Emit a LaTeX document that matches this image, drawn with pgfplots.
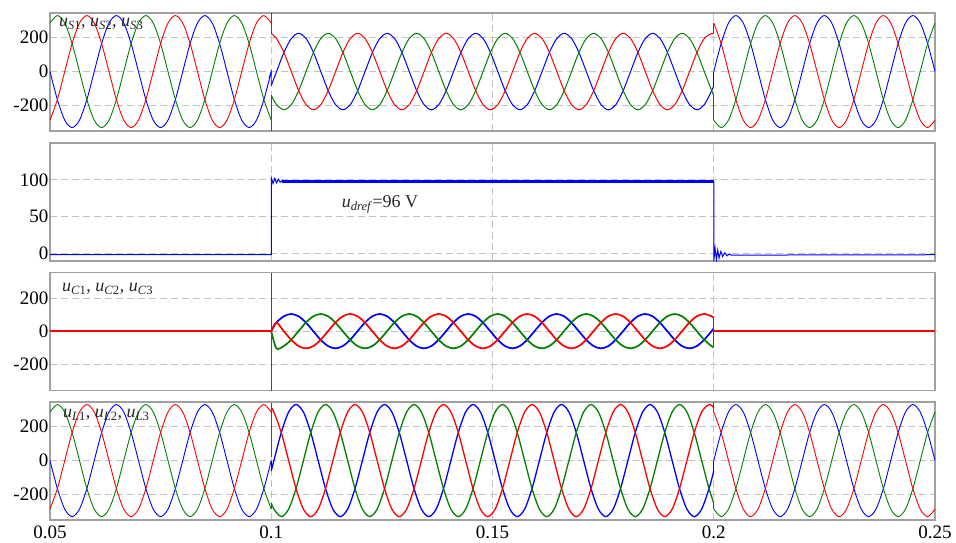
\documentclass[border=0pt]{standalone}
\usepackage{fontspec}
\setmainfont{Liberation Serif}
\usepackage{pgfplots}
\usepackage{pgfplotstable}
\pgfplotsset{compat=1.18}
\definecolor{cb}{RGB}{0,0,255}
\definecolor{cr}{RGB}{255,0,0}
\definecolor{cg}{RGB}{0,128,0}
\definecolor{bord}{RGB}{160,160,160}
\definecolor{gridc}{RGB}{195,195,195}

% source voltages, normal, 0.05-0.1
\pgfplotstableread{
t b r g
0.05 0 -286 286
0.051667 -165 -165 330
0.053333 -286 0 286
0.055 -330 165 165
0.056667 -286 286 0
0.058333 -165 330 -165
0.06 0 286 -286
0.061667 165 165 -330
0.063333 286 0 -286
0.065 330 -165 -165
0.066667 286 -286 0
0.068333 165 -330 165
0.07 0 -286 286
0.071667 -165 -165 330
0.073333 -286 0 286
0.075 -330 165 165
0.076667 -286 286 0
0.078333 -165 330 -165
0.08 0 286 -286
0.081667 165 165 -330
0.083333 286 0 -286
0.085 330 -165 -165
0.086667 286 -286 0
0.088333 165 -330 165
0.09 0 -286 286
0.091667 -165 -165 330
0.093333 -286 0 286
0.095 -330 165 165
0.096667 -286 286 0
0.098333 -165 330 -165
0.1 0 286 -286
}\SA

% normal, 0.2-0.25
\pgfplotstableread{
t b r g
0.2 0 286 -286
0.201667 165 165 -330
0.203333 286 0 -286
0.205 330 -165 -165
0.206667 286 -286 0
0.208333 165 -330 165
0.21 0 -286 286
0.211667 -165 -165 330
0.213333 -286 0 286
0.215 -330 165 165
0.216667 -286 286 0
0.218333 -165 330 -165
0.22 0 286 -286
0.221667 165 165 -330
0.223333 286 0 -286
0.225 330 -165 -165
0.226667 286 -286 0
0.228333 165 -330 165
0.23 0 -286 286
0.231667 -165 -165 330
0.233333 -286 0 286
0.235 -330 165 165
0.236667 -286 286 0
0.238333 -165 330 -165
0.24 0 286 -286
0.241667 165 165 -330
0.243333 286 0 -286
0.245 330 -165 -165
0.246667 286 -286 0
0.248333 165 -330 165
0.25 0 -286 286
}\SC

% source voltages during the sag, 0.1-0.2
\pgfplotstableread{
t b r g
0.1 -82.8 222.6 -139.8
0.1012 0 194.9 -194.9
0.102867 112.5 112.5 -225
0.104533 194.9 0 -194.9
0.1062 225 -112.5 -112.5
0.107867 194.9 -194.9 0
0.109533 112.5 -225 112.5
0.1112 0 -194.9 194.9
0.112867 -112.5 -112.5 225
0.114533 -194.9 0 194.9
0.1162 -225 112.5 112.5
0.117867 -194.9 194.9 0
0.119533 -112.5 225 -112.5
0.1212 0 194.9 -194.9
0.122867 112.5 112.5 -225
0.124533 194.9 0 -194.9
0.1262 225 -112.5 -112.5
0.127867 194.9 -194.9 0
0.129533 112.5 -225 112.5
0.1312 0 -194.9 194.9
0.132867 -112.5 -112.5 225
0.134533 -194.9 0 194.9
0.1362 -225 112.5 112.5
0.137867 -194.9 194.9 0
0.139533 -112.5 225 -112.5
0.1412 0 194.9 -194.9
0.142867 112.5 112.5 -225
0.144533 194.9 0 -194.9
0.1462 225 -112.5 -112.5
0.147867 194.9 -194.9 0
0.149533 112.5 -225 112.5
0.1512 0 -194.9 194.9
0.152867 -112.5 -112.5 225
0.154533 -194.9 0 194.9
0.1562 -225 112.5 112.5
0.157867 -194.9 194.9 0
0.159533 -112.5 225 -112.5
0.1612 0 194.9 -194.9
0.162867 112.5 112.5 -225
0.164533 194.9 0 -194.9
0.1662 225 -112.5 -112.5
0.167867 194.9 -194.9 0
0.169533 112.5 -225 112.5
0.1712 0 -194.9 194.9
0.172867 -112.5 -112.5 225
0.174533 -194.9 0 194.9
0.1762 -225 112.5 112.5
0.177867 -194.9 194.9 0
0.179533 -112.5 225 -112.5
0.1812 0 194.9 -194.9
0.182867 112.5 112.5 -225
0.184533 194.9 0 -194.9
0.1862 225 -112.5 -112.5
0.187867 194.9 -194.9 0
0.189533 112.5 -225 112.5
0.1912 0 -194.9 194.9
0.192867 -112.5 -112.5 225
0.194533 -194.9 0 194.9
0.1962 -225 112.5 112.5
0.197867 -194.9 194.9 0
0.199533 -112.5 225 -112.5
0.2 -82.8 222.6 -139.8
}\SB

% load voltages during compensation, 0.1-0.2
\pgfplotstableread{
t b r g
0.1 -61.8 311.7 -249.9
0.1006 0 286 -286
0.102267 165 165 -330
0.103933 286 0 -286
0.1056 330 -165 -165
0.107267 286 -286 0
0.108933 165 -330 165
0.1106 0 -286 286
0.112267 -165 -165 330
0.113933 -286 0 286
0.1156 -330 165 165
0.117267 -286 286 0
0.118933 -165 330 -165
0.1206 0 286 -286
0.122267 165 165 -330
0.123933 286 0 -286
0.1256 330 -165 -165
0.127267 286 -286 0
0.128933 165 -330 165
0.1306 0 -286 286
0.132267 -165 -165 330
0.133933 -286 0 286
0.1356 -330 165 165
0.137267 -286 286 0
0.138933 -165 330 -165
0.1406 0 286 -286
0.142267 165 165 -330
0.143933 286 0 -286
0.1456 330 -165 -165
0.147267 286 -286 0
0.148933 165 -330 165
0.1506 0 -286 286
0.152267 -165 -165 330
0.153933 -286 0 286
0.1556 -330 165 165
0.157267 -286 286 0
0.158933 -165 330 -165
0.1606 0 286 -286
0.162267 165 165 -330
0.163933 286 0 -286
0.1656 330 -165 -165
0.167267 286 -286 0
0.168933 165 -330 165
0.1706 0 -286 286
0.172267 -165 -165 330
0.173933 -286 0 286
0.1756 -330 165 165
0.177267 -286 286 0
0.178933 -165 330 -165
0.1806 0 286 -286
0.182267 165 165 -330
0.183933 286 0 -286
0.1856 330 -165 -165
0.187267 286 -286 0
0.188933 165 -330 165
0.1906 0 -286 286
0.192267 -165 -165 330
0.193933 -286 0 286
0.1956 -330 165 165
0.197267 -286 286 0
0.198933 -165 330 -165
0.2 -61.8 311.7 -249.9
}\LB

% compensating voltages, 0.1-0.2
\pgfplotstableread{
t b r g
0.1 0 0 0
0.101167 52.5 52.5 -105
0.102833 90.9 0 -90.9
0.1045 105 -52.5 -52.5
0.106167 90.9 -90.9 0
0.107833 52.5 -105 52.5
0.1095 0 -90.9 90.9
0.111167 -52.5 -52.5 105
0.112833 -90.9 0 90.9
0.1145 -105 52.5 52.5
0.116167 -90.9 90.9 0
0.117833 -52.5 105 -52.5
0.1195 0 90.9 -90.9
0.121167 52.5 52.5 -105
0.122833 90.9 0 -90.9
0.1245 105 -52.5 -52.5
0.126167 90.9 -90.9 0
0.127833 52.5 -105 52.5
0.1295 0 -90.9 90.9
0.131167 -52.5 -52.5 105
0.132833 -90.9 0 90.9
0.1345 -105 52.5 52.5
0.136167 -90.9 90.9 0
0.137833 -52.5 105 -52.5
0.1395 0 90.9 -90.9
0.141167 52.5 52.5 -105
0.142833 90.9 0 -90.9
0.1445 105 -52.5 -52.5
0.146167 90.9 -90.9 0
0.147833 52.5 -105 52.5
0.1495 0 -90.9 90.9
0.151167 -52.5 -52.5 105
0.152833 -90.9 0 90.9
0.1545 -105 52.5 52.5
0.156167 -90.9 90.9 0
0.157833 -52.5 105 -52.5
0.1595 0 90.9 -90.9
0.161167 52.5 52.5 -105
0.162833 90.9 0 -90.9
0.1645 105 -52.5 -52.5
0.166167 90.9 -90.9 0
0.167833 52.5 -105 52.5
0.1695 0 -90.9 90.9
0.171167 -52.5 -52.5 105
0.172833 -90.9 0 90.9
0.1745 -105 52.5 52.5
0.176167 -90.9 90.9 0
0.177833 -52.5 105 -52.5
0.1795 0 90.9 -90.9
0.181167 52.5 52.5 -105
0.182833 90.9 0 -90.9
0.1845 105 -52.5 -52.5
0.186167 90.9 -90.9 0
0.187833 52.5 -105 52.5
0.1895 0 -90.9 90.9
0.191167 -52.5 -52.5 105
0.192833 -90.9 0 90.9
0.1945 -105 52.5 52.5
0.196167 -90.9 90.9 0
0.197833 -52.5 105 -52.5
0.1995 0 90.9 -90.9
0.2 16.4 81.6 -98
}\CB

\pgfplotsset{
  panel/.style={
    scale only axis, width=885pt, height=118pt,
    xmin=0.05, xmax=0.25,
    xtick={0.05,0.1,0.15,0.2,0.25},
    xticklabels={},
    major tick length=0pt,
    grid=major,
    major grid style={gridc, dash pattern=on 7pt off 4pt, line width=0.8pt},
    axis line style={bord, line width=1.3pt},
    tick label style={font=\fontsize{19}{21}\selectfont},
    yticklabel style={inner sep=1.5pt},
    no markers,
  },
}
\tikzset{lab/.style={anchor=base west, inner sep=0pt, text=black!85, font=\fontsize{18}{20}\selectfont}}

\begin{document}
\begin{tikzpicture}
\useasboundingbox (-50pt,-22pt) rectangle (906pt,520pt);

% ---------- panel 1: source voltages ----------
\begin{axis}[panel, at={(0pt,389pt)}, anchor=south west,
  ymin=-350, ymax=345, ytick={-200,0,200}, yticklabels={-200,0,200}]
\addplot[cb, smooth, line width=0.9pt] table[x=t,y=b] {\SA};
\addplot[cg, smooth, line width=0.9pt] table[x=t,y=g] {\SA};
\addplot[cr, smooth, line width=0.9pt] table[x=t,y=r] {\SA};
\addplot[cb, smooth, line width=1.0pt] table[x=t,y=b] {\SB};
\addplot[cg, smooth, line width=1.0pt] table[x=t,y=g] {\SB};
\addplot[cr, smooth, line width=1.0pt] table[x=t,y=r] {\SB};
\addplot[cb, smooth, line width=0.9pt] table[x=t,y=b] {\SC};
\addplot[cg, smooth, line width=0.9pt] table[x=t,y=g] {\SC};
\addplot[cr, smooth, line width=0.9pt] table[x=t,y=r] {\SC};
\addplot[cb, line width=0.9pt] coordinates {(0.0995,-40)(0.1,0)(0.1,-82.8)};
\addplot[cg, line width=0.9pt] coordinates {(0.1,-286)(0.1,-350)(0.1,-139.8)};
\addplot[cr, line width=0.9pt] coordinates {(0.1,286)(0.1,345)(0.1,222.6)};
\addplot[cb, line width=0.9pt] coordinates {(0.2,-82.8)(0.2,0)};
\addplot[cg, line width=0.9pt] coordinates {(0.2,-139.8)(0.2,-286)};
\addplot[cr, line width=0.9pt] coordinates {(0.2,222.6)(0.2,286)};
\node[lab] at (axis cs:0.052,263) {\textit{u}\textsubscript{\textit{S}1}, \textit{u}\textsubscript{\textit{S}2}, \textit{u}\textsubscript{\textit{S}3}};
\end{axis}

% ---------- panel 2: dc reference ----------
\begin{axis}[panel, at={(0pt,259pt)}, anchor=south west,
  ymin=-10, ymax=150, ytick={0,50,100}, yticklabels={0,50,100}]
\addplot[cb, line width=1pt] coordinates {(0.05,-1.5)(0.1,-1.5)(0.1,103)(0.1004,95)(0.1008,102)(0.1012,96)(0.1016,101)(0.102,97)(0.1025,99)(0.103,97.5)};
\addplot[cb, line width=3.5pt] coordinates {(0.1025,98)(0.2,98)};
\addplot[cb, line width=1pt] coordinates {(0.2,98)(0.2,-10)(0.2003,7)(0.2006,-8)(0.2009,5)(0.2012,-6)(0.2016,3)(0.202,-4)(0.2025,1)(0.203,-3)(0.2035,-0.5)(0.204,-2)(0.25,-1.5)};
\node[lab] at (axis cs:0.1159,62) {\textit{u}\textsubscript{\textit{dref}}=96 V};
\end{axis}

% ---------- panel 3: compensating voltages ----------
\begin{axis}[panel, at={(0pt,129.5pt)}, anchor=south west,
  ymin=-362, ymax=358, ytick={-200,0,200}, yticklabels={-200,0,200}]
\addplot[cb, smooth, line width=1.7pt] table[x=t,y=b] {\CB};
\addplot[cg, smooth, line width=1.7pt] table[x=t,y=g] {\CB};
\addplot[cr, smooth, line width=1.7pt] table[x=t,y=r] {\CB};
\addplot[cg, line width=0.9pt] coordinates {(0.1,0)(0.1,358)};
\addplot[cr, line width=0.9pt] coordinates {(0.1,0)(0.1,-362)};
\addplot[cb, line width=1pt] coordinates {(0.2,16.4)(0.2,0)};
\addplot[cg, line width=1pt] coordinates {(0.2,-98)(0.2,0)};
\addplot[cr, line width=1pt] coordinates {(0.2,81.6)(0.2,0)};
\addplot[cr, line width=1.4pt] coordinates {(0.05,0)(0.1,0)};
\addplot[cr, line width=1.4pt] coordinates {(0.2,0)(0.25,0)};
\node[lab] at (axis cs:0.0527,240) {\textit{u}\textsubscript{\textit{C}1}, \textit{u}\textsubscript{\textit{C}2}, \textit{u}\textsubscript{\textit{C}3}};
\end{axis}

% ---------- panel 4: load voltages ----------
\begin{axis}[panel, at={(0pt,0pt)}, anchor=south west,
  ymin=-350, ymax=345, ytick={-200,0,200}, yticklabels={-200,0,200},
  xticklabels={0.05,0.1,0.15,0.2,0.25},
  xticklabel style={anchor=north, inner sep=0pt, yshift=-6pt}]
\addplot[cb, smooth, line width=0.9pt] table[x=t,y=b] {\SA};
\addplot[cg, smooth, line width=0.9pt] table[x=t,y=g] {\SA};
\addplot[cr, smooth, line width=0.9pt] table[x=t,y=r] {\SA};
\addplot[cb, smooth, line width=1.3pt] table[x=t,y=b] {\LB};
\addplot[cg, smooth, line width=1.3pt] table[x=t,y=g] {\LB};
\addplot[cr, smooth, line width=1.3pt] table[x=t,y=r] {\LB};
\addplot[cb, smooth, line width=0.9pt] table[x=t,y=b] {\SC};
\addplot[cg, smooth, line width=0.9pt] table[x=t,y=g] {\SC};
\addplot[cr, smooth, line width=0.9pt] table[x=t,y=r] {\SC};
\addplot[cb, line width=0.9pt] coordinates {(0.1,0)(0.1,-61.8)};
\addplot[cg, line width=0.9pt] coordinates {(0.1,-286)(0.1,-249.9)};
\addplot[cr, line width=0.9pt] coordinates {(0.1,286)(0.1,340)(0.1,20)(0.1,311.7)};
\addplot[cb, line width=0.9pt] coordinates {(0.2,-61.8)(0.2,0)};
\addplot[cg, line width=0.9pt] coordinates {(0.2,-249.9)(0.2,-286)};
\addplot[cr, line width=0.9pt] coordinates {(0.2,311.7)(0.2,345)(0.2,286)};
\node[lab] at (axis cs:0.0529,254) {\textit{u}\textsubscript{\textit{L}1}, \textit{u}\textsubscript{\textit{L}2}, \textit{u}\textsubscript{\textit{L}3}};
\end{axis}
\end{tikzpicture}
\end{document}
